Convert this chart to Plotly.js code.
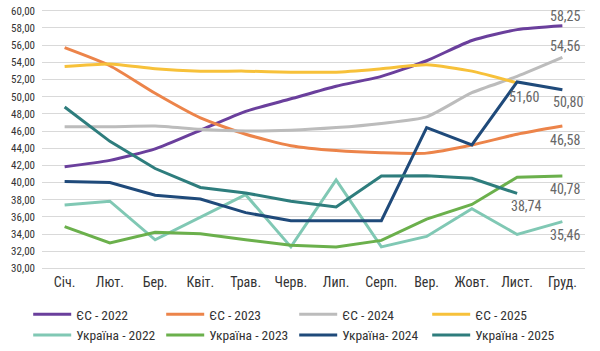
<!DOCTYPE html>
<html><head><meta charset="utf-8">
<script src="https://cdn.plot.ly/plotly-3.0.1.min.js"></script>
<style>html,body{margin:0;padding:0;background:#fff}#c{width:600px;height:351px}</style>
</head><body><div id="c"></div>
<script>
const months = ["Січ.","Лют.","Бер.","Квіт.","Трав.","Черв.","Лип.","Серп.","Вер.","Жовт.","Лист.","Груд."];
const eu2022 = [41.84,42.59,43.92,46.09,48.29,49.75,51.22,52.36,54.18,56.54,57.80,58.25];
const eu2023 = [55.70,53.60,50.39,47.53,45.63,44.30,43.73,43.47,43.43,44.38,45.63,46.58];
const eu2024 = [46.51,46.50,46.58,46.20,46.00,46.09,46.40,46.89,47.65,50.46,52.36,54.56];
const eu2025 = [53.50,53.81,53.24,52.97,52.97,52.85,52.85,53.24,53.70,52.97,51.60];
const ua2022 = [37.39,37.84,33.35,35.94,38.60,32.52,40.31,32.52,33.74,36.97,33.97,35.46];
const ua2023 = [34.88,32.98,34.23,34.04,33.35,32.71,32.52,33.28,35.75,37.46,40.62,40.78];
const ua2024 = [40.13,40.00,38.53,38.10,36.51,35.56,35.56,35.56,46.40,44.38,51.71,50.80];
const ua2025 = [48.79,44.80,41.64,39.44,38.79,37.84,37.16,40.77,40.80,40.50,38.74];
const yTicks = [30,32,34,36,38,40,42,44,46,48,50,52,54,56,58,60];

const F = "Roboto Condensed, Roboto, sans-serif";
function tr(name, y, color, shape){
  return {type:'scatter', mode:'lines', name:name, x:months.slice(0,y.length), y:y,
    line:{color:color, width:3, shape:shape||'linear', smoothing:0.6}, hoverinfo:'skip'};
}
const data = [
  tr("ЄС - 2022", eu2022, "#6a3f9c", 'spline'),
  tr("ЄС - 2023", eu2023, "#ec844a", 'spline'),
  tr("ЄС - 2024", eu2024, "#bcbcbc", 'spline'),
  tr("ЄС - 2025", eu2025, "#f7c13a", 'spline'),
  tr("Україна - 2022", ua2022, "#80c8b4"),
  tr("Україна - 2023", ua2023, "#6bb04c"),
  tr("Україна- 2024", ua2024, "#1f4a7a"),
  tr("Україна - 2025", ua2025, "#2e7d7d"),
];
function lab(xi, yv, txt, yshift, xshift){
  return {x:months[xi], y:yv, text:txt, showarrow:false, xanchor:'center', yanchor:'middle',
    yshift:yshift, xshift:xshift||0, font:{family:F, size:14, color:"#666666"}};
}
const fmt = v => v.toFixed(2).replace('.', ',');
const annotations = [
  lab(11, eu2022[11], fmt(eu2022[11]), 10, 3),
  lab(11, eu2024[11], fmt(eu2024[11]), 11, 3),
  lab(11, ua2024[11], fmt(ua2024[11]), -12, 6),
  lab(10, eu2025[10], fmt(eu2025[10]), -14, 7),
  lab(11, eu2023[11], fmt(eu2023[11]), -14, 3),
  lab(11, ua2023[11], fmt(ua2023[11]), -13, 3),
  lab(10, ua2025[10], fmt(ua2025[10]), -13, 9),
  lab(11, ua2022[11], fmt(ua2022[11]), -13, 3),
];
const layout = {
  width:600, height:351, margin:{l:42, r:15, t:9, b:79},
  paper_bgcolor:'#fff', plot_bgcolor:'#fff', separators:', ',
  font:{family:F, size:12, color:'#333'},
  showlegend:true,
  legend:{orientation:'h', xref:'container', yref:'container', x:0.047, xanchor:'left', y:0.148, yanchor:'top',
    font:{family:F, size:13.5, color:'#333'}, entrywidth:80, entrywidthmode:'pixels',
    itemwidth:38, tracegroupgap:0, traceorder:'normal'},
  xaxis:{type:'category', range:[-0.5,11.5], showgrid:false, zeroline:false, showline:false,
    ticks:'', tickfont:{family:F, size:14, color:'#333'}, automargin:false},
  yaxis:{range:[29.6,60.2], tickvals:yTicks, tickformat:'.2f', showgrid:true, gridcolor:'#d9d9d9',
    gridwidth:1, zeroline:false, showline:false, ticks:'', ticklabelstandoff:6,
    tickfont:{family:F, size:11, color:'#333'}, automargin:false},
  annotations:annotations
};
Plotly.newPlot('c', data, layout, {staticPlot:true});
</script></body></html>
